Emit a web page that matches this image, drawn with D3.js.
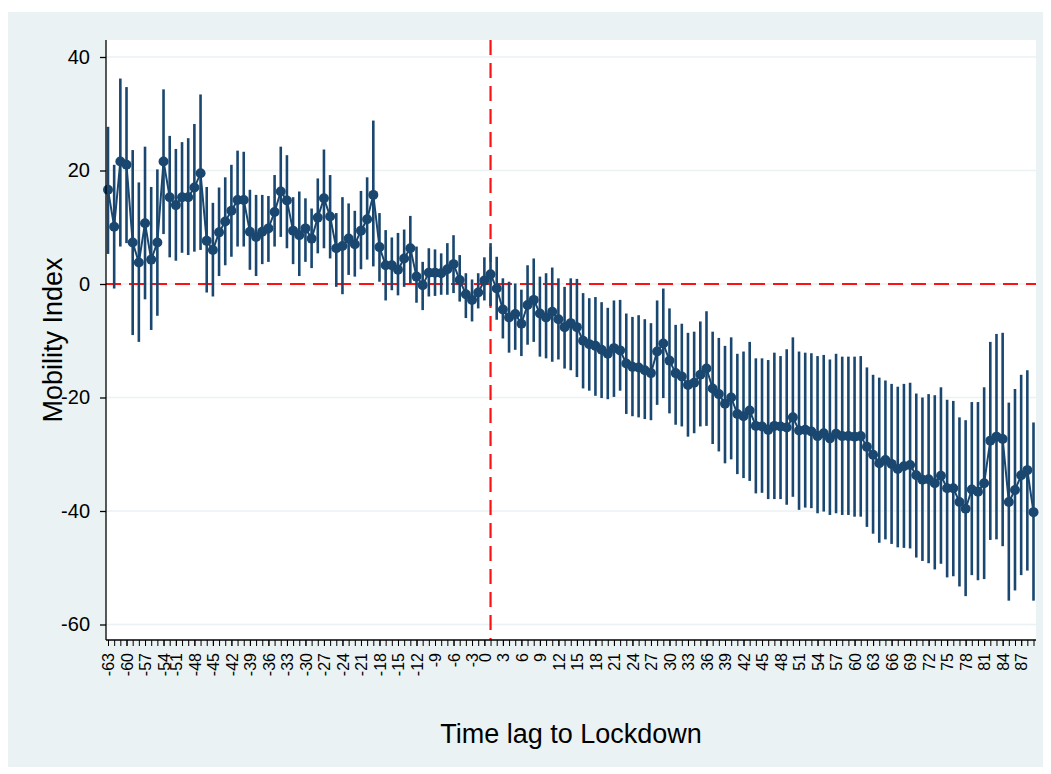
<!DOCTYPE html>
<html><head><meta charset="utf-8">
<script src="https://cdn.jsdelivr.net/npm/d3@7"></script>
<style>body{margin:0;background:#fff}svg{display:block}text{font-family:"Liberation Sans",Arial,sans-serif}</style>
</head><body><svg id="c" width="1051" height="774"></svg>
<script>
// lag days present in the data (days -52 and -1 absent)
const days = [-63,-62,-61,-60,-59,-58,-57,-56,-55,-54,-53,
  -51,-50,-49,-48,-47,-46,-45,-44,-43,-42,-41,-40,-39,-38,-37,-36,-35,-34,-33,-32,-31,-30,
  -29,-28,-27,-26,-25,-24,-23,-22,-21,-20,-19,-18,-17,-16,-15,-14,-13,-12,-11,-10,-9,-8,-7,-6,-5,-4,-3,-2,
  0,1,2,3,4,5,6,7,8,9,10,11,12,13,14,15,16,17,18,19,20,21,22,23,24,25,26,27,28,29,30,
  31,32,33,34,35,36,37,38,39,40,41,42,43,44,45,46,47,48,49,50,51,52,53,54,55,56,57,58,59,60,
  61,62,63,64,65,66,67,68,69,70,71,72,73,74,75,76,77,78,79,80,81,82,83,84,85,86,87,88,89];
const mobility = [16.6,10.1,21.6,21.0,7.3,3.8,10.7,4.3,7.3,21.6,15.3,
  13.9,15.3,15.3,17.0,19.5,7.6,6.0,9.1,11.0,12.9,14.8,14.8,9.2,8.3,9.2,9.8,12.7,16.3,14.7,9.4,8.6,9.8,
  8.0,11.7,15.1,11.9,6.3,6.7,8.0,7.0,9.4,11.4,15.7,6.5,3.3,3.3,2.5,4.5,6.3,1.3,-0.2,2.0,2.0,1.9,2.6,3.5,0.7,-1.8,-2.8,-1.5,
  0.6,1.7,-0.8,-4.5,-5.9,-5.3,-7.0,-3.7,-2.8,-5.2,-5.9,-4.9,-6.2,-7.6,-6.9,-7.6,-10.0,-10.6,-10.9,-11.6,-12.3,-11.3,-11.7,-14.0,-14.6,-14.7,-15.2,-15.7,-11.9,-10.5,-13.5,
  -15.7,-16.3,-17.8,-17.4,-16.0,-14.9,-18.4,-19.4,-21.1,-20.0,-22.9,-23.3,-22.3,-25.0,-25.1,-25.7,-25.0,-25.1,-25.3,-23.5,-25.8,-25.7,-26.0,-26.8,-26.3,-27.2,-26.4,-26.8,-26.8,-26.9,
  -26.8,-28.7,-30.1,-31.6,-31.0,-31.7,-32.6,-32.1,-31.9,-33.7,-34.5,-34.4,-35.1,-33.8,-36.0,-36.0,-38.4,-39.6,-36.2,-36.6,-35.1,-27.6,-26.9,-27.3,-38.4,-36.3,-33.7,-32.8,-40.2];
const ciHigh = [27.7,21.0,36.2,34.7,23.6,17.9,24.2,17.1,20.2,34.3,26.1,
  23.8,25.0,25.7,28.2,33.4,17.1,14.3,17.0,18.8,21.0,23.5,23.3,16.6,15.7,15.7,15.5,19.2,24.2,22.7,15.3,16.3,15.1,
  13.3,18.6,23.7,19.2,12.5,15.3,14.2,12.9,16.4,18.8,28.8,12.5,9.5,8.2,9.0,9.6,12.0,6.6,3.9,6.3,6.1,5.4,7.2,8.6,5.1,1.9,0.8,1.9,
  4.7,7.2,4.8,1.0,0.4,0.1,-1.0,3.3,4.5,1.3,1.9,2.9,1.0,-0.5,1.0,0.9,-1.6,-2.5,-2.3,-3.2,-4.2,-2.9,-2.8,-5.2,-5.8,-5.5,-6.2,-6.9,-2.9,-0.8,-4.3,
  -7.2,-7.0,-8.6,-8.4,-6.6,-4.8,-8.4,-9.5,-10.9,-9.4,-12.3,-11.9,-10.2,-13.1,-13.1,-13.4,-12.1,-12.7,-11.5,-9.4,-11.9,-12.1,-12.2,-12.7,-12.5,-13.3,-12.3,-12.8,-12.8,-12.8,
  -12.7,-14.7,-16.0,-16.5,-17.0,-17.6,-18.1,-17.6,-17.4,-19.3,-20.0,-19.4,-19.6,-18.2,-20.4,-20.6,-23.5,-24.0,-20.8,-20.8,-18.2,-10.2,-8.8,-8.6,-20.9,-18.5,-16.0,-15.2,-24.4];
const ciLow = [5.3,-0.8,6.6,7.2,-9.0,-10.2,-2.7,-8.1,-5.6,8.8,4.7,
  4.1,5.5,5.1,5.7,6.0,-1.5,-2.2,1.4,3.3,4.8,6.6,6.6,2.5,1.4,3.5,3.9,6.6,8.3,6.3,3.5,1.4,3.9,
  2.8,5.4,6.3,4.5,-0.5,-1.8,1.6,1.3,2.6,4.3,3.1,0.4,-2.9,-1.1,-2.0,-0.5,0.1,-3.3,-4.6,-2.2,-2.1,-1.9,-1.9,-1.6,-3.1,-6.0,-6.6,-4.3,
  -2.9,-3.9,-6.3,-9.6,-12.1,-11.6,-12.7,-10.7,-10.2,-12.8,-13.1,-13.7,-13.3,-14.9,-15.2,-16.4,-18.4,-18.8,-19.7,-20.1,-20.3,-19.9,-18.8,-22.9,-23.3,-23.5,-23.8,-24.0,-21.3,-20.1,-22.8,
  -24.8,-25.1,-26.9,-26.3,-25.1,-25.0,-28.2,-29.5,-31.6,-30.9,-33.5,-34.2,-34.7,-36.9,-36.8,-37.9,-37.9,-37.9,-38.9,-37.5,-39.8,-39.4,-39.5,-40.4,-40.1,-40.7,-40.4,-40.7,-40.7,-41.0,
  -41.0,-42.8,-44.0,-45.6,-45.0,-45.8,-46.4,-46.5,-46.6,-48.2,-48.8,-49.2,-50.3,-49.3,-51.7,-51.5,-53.3,-55.0,-51.3,-52.2,-52.0,-45.1,-45.0,-46.2,-55.8,-54.0,-51.3,-50.5,-55.8];
const xTickLabels = [-63,-60,-57,-54,-51,-48,-45,-42,-39,-36,-33,-30,-27,-24,-21,-18,-15,-12,-9,-6,-3,
  0,3,6,9,12,15,18,21,24,27,30,33,36,39,42,45,48,51,54,57,60,63,66,69,72,75,78,81,84,87];
const yTicks = [-60,-40,-20,0,20,40];
const lockdownDay = 1;
const refValue = 0;

const navy = '#1a476f', bg = '#eaf2f3', red = '#ff1111';
const svg = d3.select('#c');
const L = 106, R = 1036, T = 40, B = 640;

svg.append('rect').attr('x', 8).attr('y', 12).attr('width', 1035).attr('height', 755).attr('fill', bg);
svg.append('rect').attr('x', L).attr('y', T).attr('width', R - L).attr('height', B - T).attr('fill', '#fff');

const x = d3.scalePoint().domain(days).range([108, 1033.5]);
const y = d3.scaleLinear().domain([-60, 40]).range([624.5, 57]);

// grid
svg.append('g').selectAll('line').data(yTicks).join('line')
  .attr('x1', L).attr('x2', R).attr('y1', d => y(d)).attr('y2', d => y(d))
  .attr('stroke', bg).attr('stroke-width', 1.6);

// reference lines
svg.append('line').attr('x1', L).attr('x2', R).attr('y1', y(refValue)).attr('y2', y(refValue))
  .attr('stroke', red).attr('stroke-width', 2.2).attr('stroke-dasharray', '15,8');
svg.append('line').attr('x1', x(lockdownDay)).attr('x2', x(lockdownDay)).attr('y1', T).attr('y2', B)
  .attr('stroke', red).attr('stroke-width', 2.2).attr('stroke-dasharray', '15,8');

const data = days.map((d, i) => ({day: d, v: mobility[i], hi: ciHigh[i], lo: ciLow[i]}));

// CI spikes
svg.append('g').selectAll('line').data(data).join('line')
  .attr('x1', d => x(d.day)).attr('x2', d => x(d.day))
  .attr('y1', d => y(d.hi)).attr('y2', d => y(d.lo))
  .attr('stroke', navy).attr('stroke-width', 2.6);

// connected line
svg.append('path').datum(data)
  .attr('d', d3.line().x(d => x(d.day)).y(d => y(d.v)))
  .attr('fill', 'none').attr('stroke', navy).attr('stroke-width', 2);

// points
svg.append('g').selectAll('circle').data(data).join('circle')
  .attr('cx', d => x(d.day)).attr('cy', d => y(d.v)).attr('r', 5)
  .attr('fill', navy);

// y axis
const gy = svg.append('g').attr('transform', `translate(${L},0)`)
  .call(d3.axisLeft(y).tickValues(yTicks).tickSize(6).tickPadding(10).tickFormat(d => String(d)));
gy.select('.domain').attr('d', `M0,${T}V${B}`).attr('stroke', '#000').attr('stroke-width', 1.3);
gy.selectAll('.tick line').attr('stroke', '#000').attr('stroke-width', 1.3);
gy.selectAll('text').attr('font-size', 20).attr('fill', '#000').style('font-family', '"Liberation Sans",Arial,sans-serif');

// x axis minor ticks
const gxm = svg.append('g').attr('transform', `translate(0,${B})`)
  .call(d3.axisBottom(x).tickValues(days).tickSize(6).tickFormat(''));
gxm.select('.domain').attr('d', `M${L},0H${R}`).attr('stroke', '#000').attr('stroke-width', 1.3);
gxm.selectAll('.tick line').attr('stroke', '#000').attr('stroke-width', 1);

// x axis labels
const gx = svg.append('g').attr('transform', `translate(0,${B})`)
  .call(d3.axisBottom(x).tickValues(xTickLabels).tickSize(6).tickFormat(d => String(d)));
gx.select('.domain').remove();
gx.selectAll('.tick line').attr('stroke', '#000').attr('stroke-width', 1);
gx.selectAll('text').attr('font-size', 16).attr('fill', '#000')
  .style('font-family', '"Liberation Sans",Arial,sans-serif')
  .attr('transform', 'rotate(-90)').attr('text-anchor', 'end')
  .attr('x', -13).attr('y', 0).attr('dy', '0.36em');

// titles
svg.append('text').attr('x', (L + R) / 2).attr('y', 743).attr('text-anchor', 'middle')
  .attr('font-size', 27).attr('fill', '#000').text('Time lag to Lockdown');
svg.append('text').attr('transform', `translate(62,${(T + B) / 2}) rotate(-90)`).attr('text-anchor', 'middle')
  .attr('font-size', 27).attr('fill', '#000').text('Mobility Index');
</script></body></html>
